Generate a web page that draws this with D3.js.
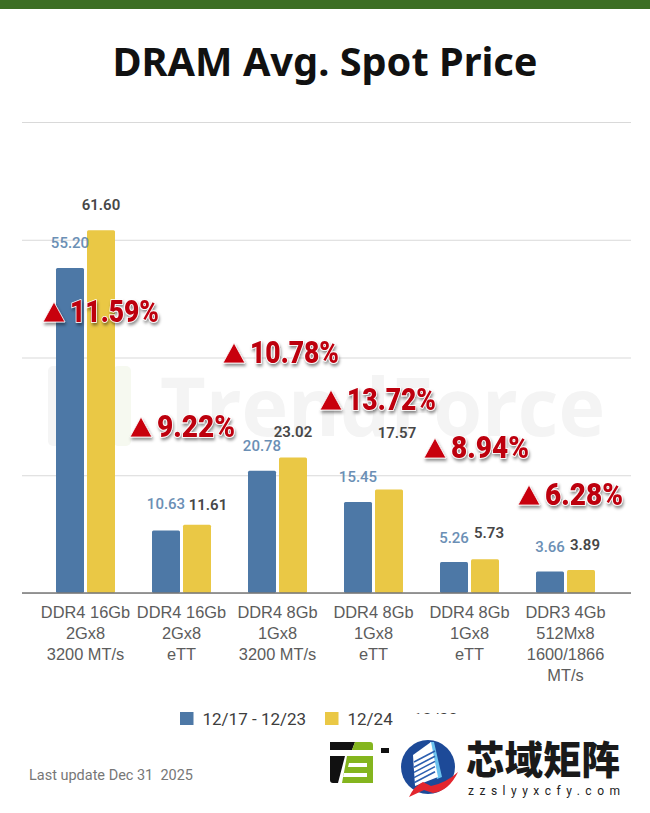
<!DOCTYPE html>
<html>
<head>
<meta charset="utf-8">
<script src="https://cdn.jsdelivr.net/npm/d3@7"></script>
<style>
  html, body { margin: 0; background: #fff; }
  svg { display: block; font-family: Roboto, sans-serif; }
</style>
</head>
<body>
<svg id="chart" width="650" height="813"></svg>
<script>
const categories = [
  ['DDR4 16Gb', '2Gx8', '3200 MT/s'],
  ['DDR4 16Gb', '2Gx8', 'eTT'],
  ['DDR4 8Gb', '1Gx8', '3200 MT/s'],
  ['DDR4 8Gb', '1Gx8', 'eTT'],
  ['DDR4 8Gb', '1Gx8', 'eTT'],
  ['DDR3 4Gb', '512Mx8', '1600/1866', 'MT/s']
];
const prevWeek = [55.20, 10.63, 20.78, 15.45, 5.26, 3.66];
const thisWeek = [61.60, 11.61, 23.02, 17.57, 5.73, 3.89];
const changes = ['11.59%', '9.22%', '10.78%', '13.72%', '8.94%', '6.28%'];
const yTicks = [0, 20, 40, 60, 80];
const seriesNames = ['12/17 - 12/23', '12/24 - 12/30'];

const BLUE = '#4d78a6';
const YELLOW = '#eac845';

const svg = d3.select('#chart');
const defs = svg.append('defs');
const shadow = defs.append('filter').attr('id', 'shadow')
  .attr('x', '-10%').attr('y', '-20%').attr('width', '125%').attr('height', '150%');
shadow.append('feDropShadow')
  .attr('dx', 1).attr('dy', 2.5).attr('stdDeviation', 1.6)
  .attr('flood-color', '#000').attr('flood-opacity', 0.45);

// top band + title
svg.append('rect').attr('width', 650).attr('height', 9).attr('fill', '#3c6e24');
svg.append('text')
  .attr('x', 325).attr('y', 76)
  .attr('text-anchor', 'middle')
  .attr('font-family', 'Noto Sans')
  .attr('font-weight', 700)
  .attr('font-size', 40)
  .attr('fill', '#111')
  .attr('textLength', 425)
  .attr('lengthAdjust', 'spacingAndGlyphs')
  .text('DRAM Avg. Spot Price');

const x = d3.scaleBand().domain(d3.range(6)).range([37.5, 613.5]);
const y = d3.scaleLinear().domain([0, 80]).range([593, 122]);

// gridlines
const grid = svg.append('g')
  .attr('transform', 'translate(22,0)')
  .call(d3.axisLeft(y).tickValues(yTicks).tickSize(-609).tickFormat(''));
grid.select('.domain').remove();
grid.selectAll('.tick line').attr('stroke', '#d9d9d9').attr('stroke-width', 1.2);

// watermark
const mark = svg.append('g');
mark.append('rect').attr('x', 48).attr('y', 366).attr('width', 18).attr('height', 80).attr('rx', 5).attr('fill', '#f5f5f5');
mark.append('rect').attr('x', 113).attr('y', 366).attr('width', 18).attr('height', 80).attr('rx', 5).attr('fill', '#f6f9f0');
mark.append('text')
  .attr('x', 160).attr('y', 436)
  .attr('font-family', 'Open Sans').attr('font-weight', 700).attr('font-size', 80)
  .attr('fill', '#f4f4f4')
  .attr('textLength', 445)
  .attr('lengthAdjust', 'spacingAndGlyphs')
  .text('TrendForce');

// bars
const barW = 28;
const barGap = 3;
const barX = (i, s) => x(i) + x.bandwidth() / 2 + (s === 0 ? -barW - barGap / 2 : barGap / 2);
[prevWeek, thisWeek].forEach((values, s) => {
  svg.append('g').selectAll('rect')
    .data(values)
    .join('rect')
    .attr('x', (d, i) => barX(i, s))
    .attr('y', d => y(d))
    .attr('width', barW)
    .attr('height', d => y(0) - y(d))
    .attr('rx', 1.5)
    .attr('fill', s === 0 ? BLUE : YELLOW);
});

// axis line and category labels
const xAxis = svg.append('g')
  .attr('transform', `translate(0,${y(0)})`)
  .call(d3.axisBottom(x).tickSize(0).tickFormat(''));
xAxis.select('.domain').remove();
xAxis.append('line').attr('x1', 22).attr('x2', 631).attr('stroke', '#777').attr('stroke-width', 1.6);
xAxis.selectAll('.tick text').remove();
xAxis.selectAll('.tick').append('text')
  .attr('text-anchor', 'middle')
  .attr('font-size', 16.4)
  .attr('fill', '#5c5c5c')
  .selectAll('tspan')
  .data((d, i) => categories[i])
  .join('tspan')
  .attr('x', 0)
  .attr('y', (d, i) => 25 + i * 21)
  .text(d => d);

// value labels: the source nudges a few of them, so the nudges sit here
const labelNudgeX = [[0, 0, 0, 0, 0, 0], [0, 11, 0, 8, 4, 4]];
const labelLift = [[25, 26, 25, 25, 24, 24], [25, 20, 25, 57, 26, 25]];
[prevWeek, thisWeek].forEach((values, s) => {
  svg.append('g').selectAll('text')
    .data(values)
    .join('text')
    .attr('x', (d, i) => barX(i, s) + barW / 2 + labelNudgeX[s][i])
    .attr('y', (d, i) => y(d) - labelLift[s][i] + 5)
    .attr('text-anchor', 'middle')
    .attr('font-size', 15)
    .attr('font-weight', s === 0 ? 500 : 600)
    .attr('fill', s === 0 ? '#6b8fb5' : '#474747')
    .text(d => d.toFixed(2));
});

// red change badges, placed by hand in the source image
const badgeX = [43, 130, 223, 320, 424, 518];
const badgeY = [322, 437, 363, 410, 458, 505];
const badges = svg.append('g').selectAll('g')
  .data(changes)
  .join('g')
  .attr('transform', (d, i) => `translate(${badgeX[i]},${badgeY[i]})`)
  .attr('filter', 'url(#shadow)');
badges.append('path')
  .attr('d', 'M0,0 L22,0 L11,-20 Z')
  .attr('fill', '#c8000f')
  .attr('stroke', '#fff')
  .attr('stroke-width', 0.8);
badges.append('text')
  .attr('x', 27).attr('y', 0)
  .attr('font-weight', 900)
  .attr('font-size', 31)
  .attr('fill', '#bd0010')
  .attr('stroke', '#fff')
  .attr('stroke-width', 1.6)
  .attr('paint-order', 'stroke')
  .attr('textLength', d => d.length === 6 ? 89 : 78)
  .attr('lengthAdjust', 'spacingAndGlyphs')
  .text(d => d);

// legend
const legendX = [180, 325];
const legend = svg.append('g').selectAll('g')
  .data(seriesNames)
  .join('g')
  .attr('transform', (d, i) => `translate(${legendX[i]},712)`);
legend.append('rect').attr('width', 13.5).attr('height', 13)
  .attr('fill', (d, i) => i === 0 ? BLUE : YELLOW);
const legendText = legend.append('text')
  .attr('x', 22.5).attr('y', 13)
  .attr('font-size', 17)
  .attr('fill', '#3d3d3d');
legendText.append('tspan').text(d => d.slice(0, -5));
legendText.append('tspan').attr('dx', (d, i) => i === 1 ? 7 : 0).text(d => d.slice(-5));
// the source has a white patch pasted over the legend end
svg.append('rect').attr('x', 393).attr('y', 714).attr('width', 80).attr('height', 22).attr('fill', '#fff');

// footer
svg.append('text')
  .attr('x', 29).attr('y', 780)
  .attr('font-size', 14)
  .attr('fill', '#777')
  .attr('textLength', 164)
  .attr('lengthAdjust', 'spacingAndGlyphs')
  .attr('xml:space', 'preserve')
  .text('Last update Dec 31  2025');

// TrendForce logo
const logo = svg.append('g');
logo.append('path').attr('d', 'M330,742 H355 L352,750 H330 Z M330,756 H345 L338,783 H333 Q330,783 330,780 Z').attr('fill', '#111');
logo.append('path').attr('d', 'M352,750 L355,742 H370 Q373,742 373,745 V750 Z M347,756 H373 V783 H342 Z').attr('fill', '#84b51e');
logo.append('path').attr('d', 'M349,763 H367 V767 H348 Z M344,773 H367 V777 H343 Z').attr('fill', '#fff');
logo.append('rect').attr('x', 381).attr('y', 748).attr('width', 8).attr('height', 5).attr('fill', '#111');

// overlay stamp
const stamp = svg.append('g');
stamp.append('circle').attr('cx', 428).attr('cy', 767).attr('r', 27).attr('fill', '#1d4a98');
stamp.append('path').attr('d', 'M430,742 L434,742 L442,777 L437,779 Z').attr('fill', '#6cc3ee');
stamp.append('path').attr('d', 'M413,755 L431,742 L438,777 L415,786 Z').attr('fill', '#fff');
[0, 1, 2, 3, 4].forEach(k => {
  stamp.append('line')
    .attr('x1', 414).attr('y1', 762 + k * 5.2)
    .attr('x2', 435).attr('y2', 751 + k * 5.2)
    .attr('stroke', '#2c5fb0').attr('stroke-width', 1.6);
});
stamp.append('path').attr('d', 'M409,797 Q414,786 423,782 L431,786 Q446,783 458,772 Q449,791 433,793 L424,790 Z').attr('fill', '#e3262e');
stamp.append('text')
  .attr('x', 466).attr('y', 774)
  .attr('font-family', 'Noto Sans CJK SC')
  .attr('font-weight', 900)
  .attr('font-size', 38.5)
  .attr('fill', '#1a1a1a')
  .text('芯域矩阵');
stamp.append('text')
  .attr('x', 468).attr('y', 795)
  .attr('font-size', 12)
  .attr('fill', '#222')
  .attr('textLength', 152)
  .text('zzslyyxcfy.com');
</script>
</body>
</html>
